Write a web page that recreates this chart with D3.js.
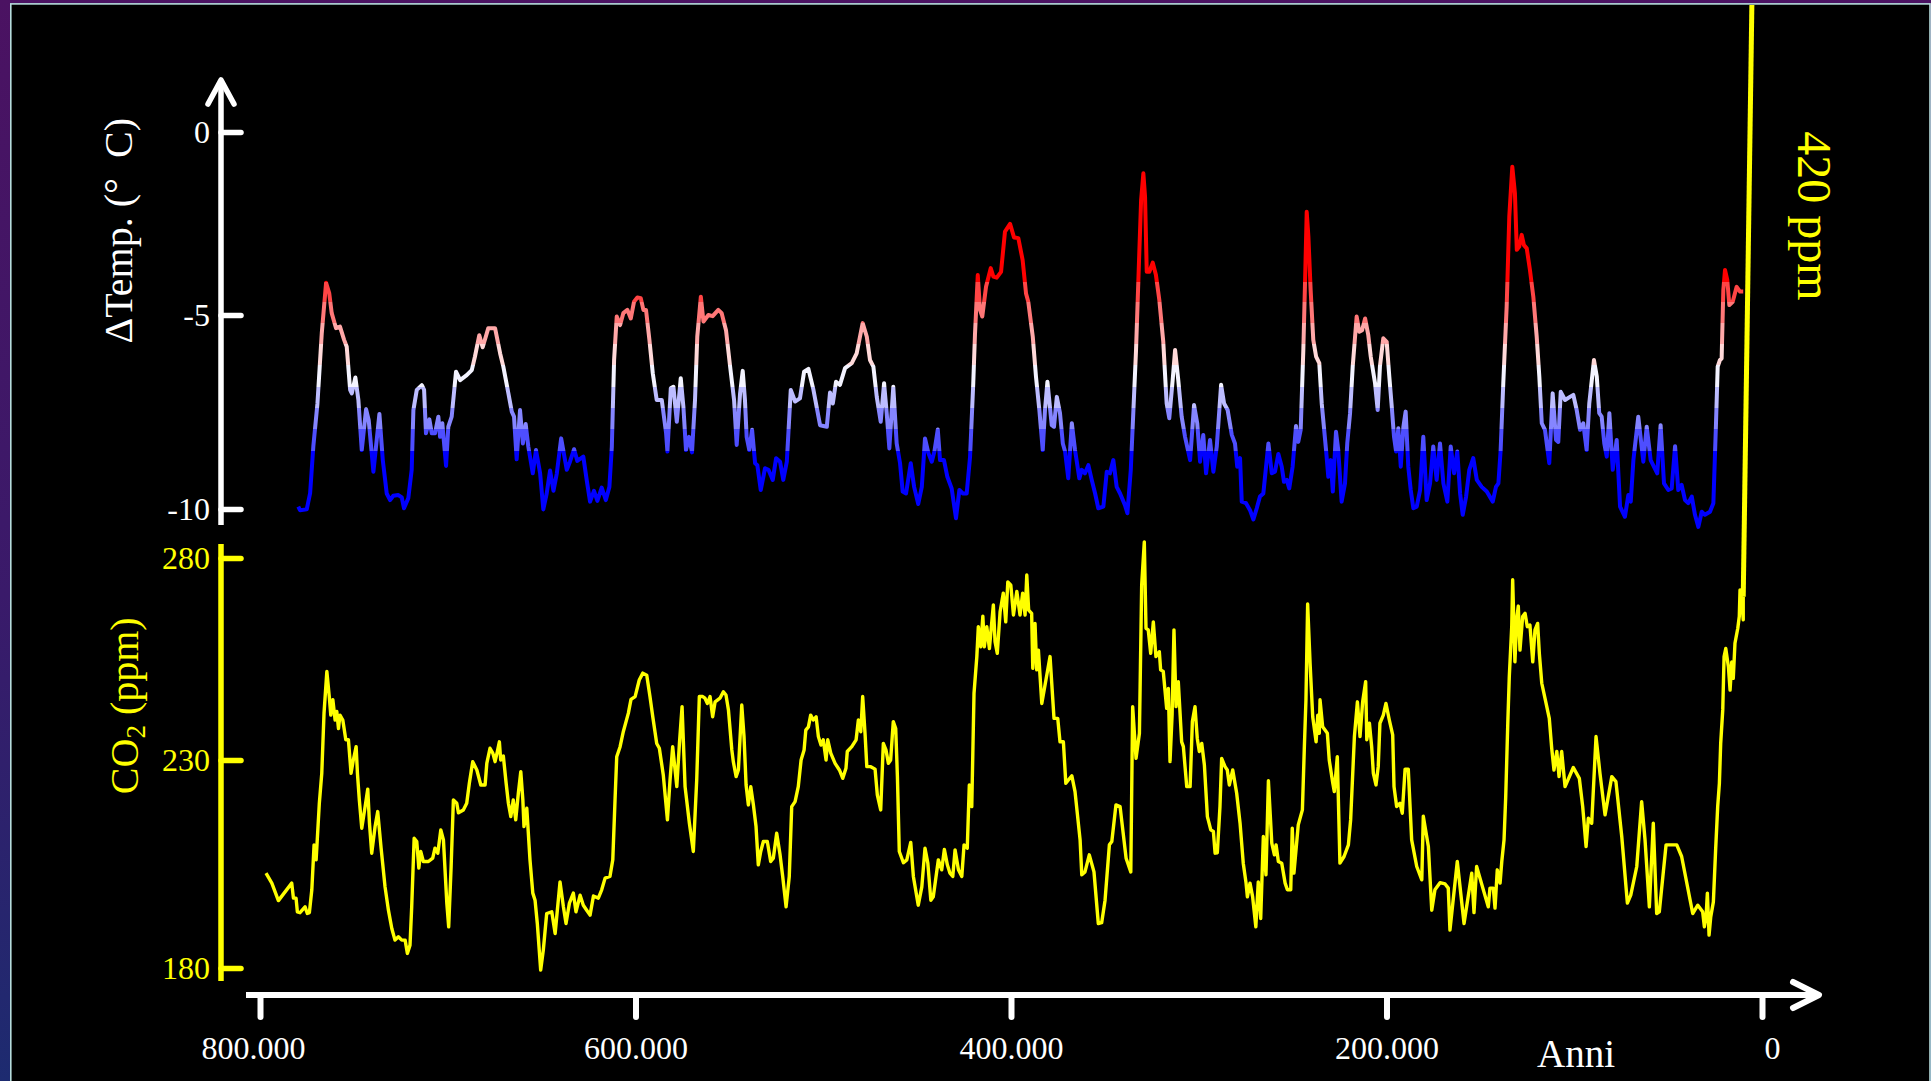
<!DOCTYPE html>
<html>
<head>
<meta charset="utf-8">
<script src="https://cdn.jsdelivr.net/npm/d3@7"></script>
<style>
  body { margin: 0; background: #000; }
  svg { display: block; }
</style>
</head>
<body>
<div id="chart"></div>
<script>
// ages in thousands of years before present
const tempAge = [779.6,778.7,775.1,773.3,771.6,769.4,767.1,764.8,763.1,761.8,759.5,757.4,755.2,753.8,752.0,751.1,749.2,747.6,745.8,743.5,742.1,739.6,736.4,734.6,732.5,730.7,729.0,726.3,724.5,723.3,721.0,719.2,718.3,716.5,713.8,712.6,711.6,709.8,708.5,706.8,705.0,704.1,702.9,700.9,699.7,697.9,695.6,693.4,689.9,687.2,685.5,683.2,681.4,678.4,674.8,672.1,670.4,667.7,665.9,664.7,663.3,661.5,660.0,658.5,657.1,654.7,653.0,650.8,649.1,647.3,645.5,643.7,641.9,639.6,636.6,634.9,632.7,631.0,627.8,626.0,624.2,622.1,620.3,618.0,615.8,613.9,612.6,611.4,610.0,608.2,606.5,604.3,602.5,600.8,599.0,597.2,595.8,594.4,592.6,590.8,588.7,586.0,583.7,583.0,581.2,579.8,578.0,575.9,574.5,573.1,571.5,569.9,568.3,567.1,565.2,563.8,561.2,558.9,555.9,554.1,551.8,549.6,547.5,546.1,544.3,542.9,541.7,540.8,539.4,537.9,536.3,535.1,533.3,531.0,529.2,526.9,525.1,523.0,521.3,519.4,517.3,515.0,512.4,510.2,507.9,505.3,501.7,498.1,496.4,494.9,493.2,491.1,488.4,484.8,482.2,479.0,476.8,475.1,473.3,471.5,469.4,467.6,466.2,464.8,462.7,460.9,459.1,457.7,455.9,453.4,451.6,449.4,447.5,445.8,444.0,442.2,440.8,439.0,437.8,435.7,433.9,431.6,429.3,427.5,425.7,423.6,421.8,420.1,419.2,417.7,416.5,415.3,413.3,410.8,409.4,407.6,405.3,403.2,400.5,398.4,396.1,393.8,392.0,390.8,388.4,386.7,384.9,383.1,381.9,380.6,378.3,377.1,375.6,373.9,372.4,371.2,369.5,367.6,365.9,363.6,362.3,360.6,358.8,357.0,355.2,353.5,350.8,349.0,347.3,345.5,343.7,341.9,339.3,338.0,336.2,334.8,333.4,331.8,330.7,329.5,328.6,327.7,326.3,324.5,322.8,321.0,318.9,317.1,315.7,313.9,312.6,310.9,309.1,307.3,304.6,302.5,300.8,299.3,297.6,296.1,294.0,292.2,290.4,288.1,286.5,284.6,282.4,280.7,279.5,278.0,277.1,274.8,272.7,270.9,269.1,267.4,265.6,262.9,261.1,259.4,257.6,255.8,254.6,253.1,251.8,250.0,248.2,247.0,245.7,244.3,243.4,242.5,241.6,240.4,239.0,237.5,235.8,234.5,232.2,231.0,229.7,228.6,226.9,225.7,223.9,222.1,220.9,219.4,218.0,215.9,214.5,213.0,211.4,209.7,208.4,206.1,204.7,203.5,201.7,199.9,198.5,197.2,196.0,194.9,193.7,192.4,191.0,189.8,188.4,187.1,185.7,183.9,182.1,180.4,178.6,176.8,175.1,173.3,171.5,169.7,167.6,165.8,164.0,162.3,160.8,159.4,157.6,155.9,153.8,151.9,149.3,146.6,143.4,141.7,140.4,139.2,137.8,136.0,134.6,133.0,131.6,130.6,129.3,128.0,126.8,125.3,123.6,121.8,120.0,118.6,117.3,115.6,113.3,111.5,109.7,108.5,107.2,104.9,102.3,100.5,98.7,96.9,95.2,93.4,92.0,89.5,88.0,86.7,85.4,84.0,82.7,81.3,79.5,77.4,75.6,73.0,71.2,69.9,68.5,65.9,63.2,61.4,59.3,55.8,54.0,52.2,49.9,48.1,46.3,44.6,42.8,41.0,39.3,37.4,35.7,33.9,32.1,30.4,27.7,25.9,24.5,23.6,22.4,21.5,20.6,19.7,18.5,17.4,15.6,13.5,11.7,10.0];

// temperature anomaly, degrees C
const tempValue = [-9.94,-10.03,-10.01,-9.59,-8.39,-7.28,-5.47,-4.12,-4.41,-4.95,-5.34,-5.30,-5.64,-5.82,-6.93,-7.02,-6.61,-7.19,-8.48,-7.43,-7.71,-9.04,-7.55,-8.74,-9.60,-9.77,-9.66,-9.64,-9.70,-9.98,-9.72,-8.99,-7.45,-6.93,-6.81,-6.93,-8.05,-7.69,-8.05,-8.05,-7.62,-8.14,-7.79,-8.89,-7.88,-7.62,-6.46,-6.68,-6.55,-6.42,-6.07,-5.52,-5.83,-5.34,-5.34,-5.99,-6.33,-7.02,-7.49,-7.62,-8.72,-7.45,-8.31,-7.81,-8.39,-9.08,-8.48,-9.08,-10.01,-9.60,-9.01,-9.53,-9.08,-8.18,-8.99,-8.78,-8.46,-8.76,-8.65,-9.25,-9.81,-9.53,-9.79,-9.45,-9.77,-9.43,-8.39,-6.16,-5.04,-5.26,-4.95,-4.86,-5.09,-4.64,-4.52,-4.54,-4.86,-4.86,-5.64,-6.50,-7.19,-7.19,-8.05,-8.52,-6.89,-6.85,-7.75,-6.63,-7.36,-8.48,-8.14,-8.54,-7.19,-5.56,-4.50,-5.17,-5.00,-5.03,-4.86,-4.95,-5.39,-6.33,-7.19,-8.35,-7.02,-6.44,-7.19,-8.14,-8.48,-7.96,-8.82,-8.87,-9.51,-8.95,-8.99,-9.25,-8.69,-8.78,-9.25,-8.78,-6.93,-7.23,-7.15,-6.46,-6.39,-6.91,-7.84,-7.88,-7.00,-7.28,-6.72,-6.80,-6.37,-6.24,-5.99,-5.21,-5.56,-6.16,-6.33,-7.11,-7.75,-6.76,-7.53,-8.44,-6.85,-8.31,-8.82,-9.55,-9.60,-8.82,-9.43,-9.87,-9.43,-8.18,-8.56,-8.78,-8.52,-7.95,-8.74,-8.74,-9.17,-9.47,-10.24,-9.51,-9.60,-9.60,-8.65,-6.76,-5.52,-3.91,-4.86,-5.04,-4.23,-3.72,-3.95,-3.98,-3.82,-2.72,-2.51,-2.88,-2.90,-3.50,-4.41,-4.64,-5.56,-6.59,-7.45,-8.48,-7.45,-6.72,-7.84,-7.88,-7.11,-7.53,-8.31,-8.52,-9.21,-7.79,-8.48,-9.21,-8.99,-9.08,-8.87,-9.25,-9.60,-9.98,-9.94,-9.04,-9.08,-8.74,-9.43,-9.60,-9.90,-10.11,-8.99,-7.45,-5.90,-3.50,-1.86,-1.13,-1.77,-3.82,-3.82,-3.57,-3.91,-4.59,-5.69,-7.28,-7.66,-6.68,-5.90,-6.68,-7.62,-8.14,-8.74,-7.32,-7.79,-8.78,-8.09,-9.08,-8.22,-9.04,-8.39,-6.80,-7.28,-7.45,-8.09,-8.31,-8.91,-8.69,-9.81,-9.85,-10.03,-10.27,-9.98,-9.68,-9.60,-8.31,-9.08,-9.04,-8.58,-8.91,-9.30,-9.25,-9.47,-8.91,-7.86,-8.27,-7.96,-5.90,-4.13,-2.18,-2.86,-4.32,-5.64,-6.07,-6.24,-7.28,-8.48,-9.17,-8.74,-9.55,-8.01,-8.48,-9.81,-9.34,-8.31,-7.53,-6.33,-5.04,-5.43,-5.39,-5.09,-5.52,-6.07,-6.76,-7.45,-6.33,-5.60,-5.69,-6.59,-7.36,-8.14,-8.52,-7.92,-8.91,-7.88,-7.49,-8.91,-9.51,-9.98,-9.94,-9.51,-8.14,-9.77,-9.34,-8.39,-9.25,-8.31,-9.34,-9.81,-8.39,-9.08,-8.52,-9.60,-10.15,-9.68,-8.99,-8.69,-9.25,-9.43,-9.55,-9.81,-9.43,-9.34,-8.48,-6.76,-4.77,-2.31,-0.95,-1.67,-3.22,-3.13,-2.81,-3.09,-3.18,-3.77,-4.50,-5.56,-6.59,-7.79,-7.96,-8.82,-7.02,-8.22,-8.27,-6.98,-7.19,-7.11,-7.06,-7.45,-7.96,-7.79,-8.48,-7.28,-6.16,-6.59,-7.53,-7.62,-8.31,-8.65,-7.53,-8.99,-8.22,-9.94,-10.20,-9.64,-9.81,-8.74,-7.62,-8.78,-7.88,-8.74,-9.08,-7.84,-9.34,-9.51,-9.47,-8.38,-9.51,-9.38,-9.77,-9.85,-9.68,-10.15,-10.46,-10.07,-10.15,-10.07,-9.85,-7.79,-6.33,-6.16,-6.12,-4.32,-3.77,-4.04,-4.73,-4.64,-4.23,-4.36,-4.36];

const co2Age = [796.8,793.7,790.2,783.1,782.2,780.8,780.1,778.7,776.0,774.8,773.7,772.4,771.2,770.1,768.4,767.1,765.9,764.4,763.1,762.3,761.2,760.0,759.1,758.2,757.4,755.9,754.3,752.9,751.5,750.3,748.8,748.1,747.1,745.8,744.0,742.6,741.7,740.5,738.7,737.3,735.5,733.4,731.6,729.8,728.1,726.3,724.5,722.7,721.5,720.1,719.2,717.9,716.5,715.4,714.4,713.0,710.3,708.0,706.8,705.3,703.7,702.3,700.5,699.5,698.2,697.0,695.2,694.3,691.7,689.9,688.5,686.7,684.5,682.4,680.1,679.2,677.5,676.0,674.8,673.6,672.5,671.8,670.4,668.9,667.7,666.4,665.1,663.8,662.4,661.1,660.0,659.4,657.9,656.2,654.7,653.5,652.3,650.5,649.1,647.3,644.6,642.8,640.2,638.4,637.0,635.2,633.1,631.7,629.5,627.8,626.0,624.2,622.4,619.8,618.0,616.2,613.6,612.1,610.9,610.0,608.2,606.5,603.8,602.4,600.2,598.0,596.1,594.0,592.3,590.8,588.7,587.3,585.2,583.0,581.6,580.2,578.0,576.6,575.2,573.6,571.3,569.2,567.4,566.0,564.2,563.0,561.7,560.3,558.9,557.6,555.0,553.2,551.8,550.5,548.7,547.9,546.4,545.2,543.4,542.2,541.1,539.9,538.6,537.2,535.8,534.6,533.3,531.9,529.8,528.0,526.6,524.8,523.0,521.6,519.8,518.1,516.8,515.0,513.3,511.8,510.2,509.3,507.9,506.7,505.3,503.8,502.6,501.2,500.0,498.5,497.6,496.0,493.7,491.4,489.6,487.9,487.2,484.8,482.5,481.3,480.0,479.0,477.7,476.8,474.7,472.4,471.2,469.4,468.0,466.6,465.3,464.1,462.7,461.4,460.5,459.5,457.3,455.5,453.4,452.0,449.4,447.5,445.8,444.3,442.7,441.4,438.7,436.9,435.5,433.9,432.5,431.0,429.8,428.0,426.2,425.0,423.3,422.2,420.9,419.7,418.2,417.4,416.1,415.0,414.2,412.9,411.5,409.4,408.5,407.3,405.8,404.1,402.8,401.7,400.1,398.7,396.9,395.2,393.8,392.5,391.6,390.6,389.0,388.4,387.2,386.3,385.4,383.6,379.2,377.1,375.1,373.9,372.1,370.8,367.6,365.9,363.2,362.3,360.6,358.3,355.8,353.5,351.7,349.9,347.6,346.3,344.1,341.9,338.7,336.2,335.2,333.4,331.6,330.4,329.0,328.1,326.9,325.6,324.2,322.8,321.0,320.3,318.9,317.1,316.2,315.3,314.2,313.2,312.1,310.9,309.1,308.2,306.4,304.6,303.4,302.0,300.8,299.7,298.4,297.0,295.4,293.6,292.2,291.3,290.1,288.7,287.8,286.0,284.8,283.7,281.9,279.8,278.0,276.3,274.8,274.1,272.7,271.3,269.6,268.3,267.0,265.6,264.2,262.9,261.1,259.7,258.8,257.6,255.8,254.0,252.8,251.0,250.2,249.3,247.0,244.8,243.8,242.9,242.0,240.7,239.3,237.5,236.6,235.8,235.4,234.0,231.5,230.5,228.6,227.8,226.2,224.8,222.6,220.3,219.1,217.1,215.5,214.1,212.7,211.1,210.5,209.1,207.9,207.0,205.6,204.4,203.5,201.7,200.3,198.5,196.7,196.0,194.6,192.8,191.6,190.1,188.4,186.6,183.9,181.2,180.4,177.7,175.9,174.2,171.5,168.8,167.1,166.2,162.3,158.7,154.6,153.4,152.0,145.8,144.9,143.1,142.2,141.0,139.5,138.6,137.4,136.5,135.4,134.6,133.3,132.8,131.6,130.6,129.8,128.9,127.5,126.2,125.0,123.6,122.1,120.9,119.5,118.6,117.3,115.0,113.3,112.0,110.8,109.3,108.1,106.7,104.9,100.5,97.3,95.5,93.7,92.5,90.7,88.4,86.3,83.6,80.0,77.8,74.7,71.7,69.9,66.7,64.1,62.3,60.0,57.9,56.1,54.7,51.1,45.4,42.8,36.9,34.2,31.6,30.7,29.8,29.1,28.2,27.3,25.9,24.7,23.6,22.7,22.0,20.9,20.2,19.3,17.9,17.0,16.1,15.3,14.4,12.9,12.1,11.7,10.8,10.0,10.0];

// CO2, ppm
const co2Value = [202.8,200.4,196.2,200.4,196.8,196.8,193.5,193.3,194.7,193.1,193.3,198.8,209.6,206.0,219.6,226.8,241.6,251.9,245.7,241.1,244.9,239.9,242.0,237.8,241.1,239.9,235.0,235.0,226.8,230.0,233.3,226.8,220.4,213.6,218.8,223.0,214.8,207.6,214.0,217.6,208.8,199.5,193.9,189.5,186.7,187.5,186.7,186.7,183.5,185.5,194.7,211.2,210.4,204.0,208.0,205.6,205.6,206.4,208.8,207.6,213.2,210.8,195.6,189.9,204.4,220.4,219.6,217.3,218.0,219.6,224.4,229.6,227.6,224.0,224.0,229.2,232.9,231.7,229.6,232.1,234.5,230.0,231.0,224.4,219.6,216.4,220.4,215.6,222.0,227.2,220.4,214.0,218.4,206.0,198.0,196.3,190.7,179.5,184.3,193.1,193.5,188.3,200.7,194.7,190.7,195.6,198.0,193.5,197.5,195.1,193.9,192.7,197.3,196.8,198.8,201.6,202.0,206.0,220.4,230.8,233.3,237.0,241.6,245.0,245.7,249.8,251.5,251.0,245.7,240.7,234.1,232.9,226.4,215.6,225.2,233.3,223.6,234.1,243.2,223.6,214.8,208.0,225.2,245.7,245.7,245.3,244.0,245.7,240.7,244.4,245.3,246.9,246.1,242.4,232.5,229.6,226.0,227.6,243.6,235.8,224.0,219.2,223.6,219.2,214.0,204.8,208.0,210.4,210.4,205.6,206.4,212.4,207.2,202.0,194.7,202.0,218.8,220.0,223.6,230.0,232.5,237.4,238.2,241.1,239.9,240.7,235.8,233.7,235.0,230.0,235.0,231.7,229.2,227.6,225.6,228.0,232.1,233.3,235.0,239.9,237.0,245.7,236.2,228.4,228.4,227.8,221.6,218.0,234.1,232.5,229.2,230.0,239.5,237.8,226.0,208.0,205.3,206.0,210.2,202.0,195.1,199.5,208.8,205.2,196.3,197.1,206.0,203.6,208.5,204.8,202.8,202.0,208.4,203.6,202.0,209.6,208.8,224.0,218.8,246.5,255.6,263.0,258.0,265.6,258.0,263.0,257.6,268.4,259.3,256.4,266.7,271.3,264.2,274.1,273.3,265.9,271.7,265.9,271.3,265.9,275.8,267.1,266.3,252.7,263.8,252.3,257.2,244.0,255.6,240.3,240.3,234.5,234.5,224.4,226.2,222.4,210.8,202.4,203.1,207.2,203.1,190.7,190.9,196.3,209.6,210.4,219.2,218.8,206.4,203.1,243.2,230.4,236.6,273.3,284.0,262.6,262.2,256.4,264.2,255.6,256.8,252.3,251.9,242.8,247.7,229.6,241.1,262.2,243.2,249.4,234.5,233.3,223.6,223.6,239.5,243.2,235.4,232.1,234.1,228.8,216.4,213.2,212.8,207.6,207.7,218.8,230.4,228.4,227.6,224.0,227.6,222.0,214.8,205.2,200.4,197.1,200.4,197.1,189.9,200.7,191.9,211.6,202.4,225.0,210.0,207.2,209.6,205.6,205.2,200.4,198.8,198.8,213.6,202.8,214.4,218.0,232.5,244.9,268.6,253.9,240.7,234.5,241.1,236.6,244.9,238.2,236.6,230.0,224.4,222.4,230.8,205.2,206.8,209.6,215.6,235.8,244.4,235.8,244.4,249.4,235.0,239.1,233.3,226.8,224.0,228.4,239.1,241.1,244.0,239.9,236.2,223.6,218.8,219.6,217.2,227.8,227.8,210.8,204.4,201.2,216.5,209.2,193.9,198.8,200.5,200.2,199.2,189.1,205.6,190.7,202.8,193.3,204.4,194.7,199.2,199.2,194.4,203.6,200.4,205.6,210.8,221.2,239.1,250.6,263.0,274.6,254.3,265.1,268.1,257.2,265.5,266.3,263.0,263.4,254.3,262.2,263.8,256.4,249.0,244.0,240.3,232.9,227.6,232.1,226.0,232.1,223.6,228.2,225.6,218.8,209.2,216.0,214.8,235.8,226.8,216.8,226.0,224.8,211.6,195.6,197.5,204.4,220.0,210.8,194.7,214.8,193.1,193.5,209.6,209.6,206.8,193.1,195.1,193.5,189.9,192.3,198.0,187.9,192.3,195.9,208.4,218.8,224.4,234.1,242.4,255.6,257.6,253.1,247.3,254.3,250.2,258.9,262.6,265.5,272.1,269.6,264.7,270.4];

// the modern jump up to today's value
const modernAge = [10.0, 5.3];
const modernValue = [270.4, 420];

const ageTicks = [800, 600, 400, 200, 0];
const tempTicks = [-10, -5, 0];
const co2Ticks = [180, 230, 280];

const w = 1931;
const h = 1081;
const axisX = 221;
const serif = "'Liberation Serif', 'DejaVu Serif', serif";

const svg = d3.select("#chart").append("svg").attr("width", w).attr("height", h);
const defs = svg.append("defs");

// slide background and frame
const bg = defs.append("linearGradient").attr("id", "bg")
  .attr("x1", 0).attr("y1", 0).attr("x2", 0).attr("y2", 1);
bg.append("stop").attr("offset", "0%").attr("stop-color", "#4b1262");
bg.append("stop").attr("offset", "55%").attr("stop-color", "#3a1a6a");
bg.append("stop").attr("offset", "100%").attr("stop-color", "#1d2b70");
svg.append("rect").attr("width", w).attr("height", h).attr("fill", "url(#bg)");
svg.append("rect")
  .attr("x", 10.8).attr("y", 3.9)
  .attr("width", w - 11.8).attr("height", h)
  .attr("fill", "#000").attr("stroke", "#b6dcdc").attr("stroke-width", 1.6);

defs.append("clipPath").attr("id", "panel")
  .append("rect").attr("x", 12).attr("y", 5).attr("width", w - 13).attr("height", h - 5);

// scales
const x = d3.scaleLinear().domain([800, 0]).range([260, 1762]);
const yT = d3.scaleLinear().domain([-10, -5, 0]).range([509, 315, 132]);
const yC = d3.scaleLinear().domain([180, 230, 280]).range([968, 760, 558]);

// banded blue-white-red stroke for the temperature curve
const tempColor = d3.scaleLinear()
  .domain([-9.0, -6.45, -3.6])
  .range(["#0000ff", "#ffffff", "#ff0000"])
  .clamp(true);
const bandStep = 0.55;
const edges = d3.range(-8.5, -4.0, bandStep);
const offset = (t) => (yT(-10) - yT(t)) / (yT(-10) - yT(0));
const grad = defs.append("linearGradient").attr("id", "tempGrad")
  .attr("gradientUnits", "userSpaceOnUse")
  .attr("x1", 0).attr("x2", 0).attr("y1", yT(-10)).attr("y2", yT(0));
const stops = [{ o: 0, c: "#0000ff" }];
edges.forEach((e, i) => {
  const before = i === 0 ? "#0000ff" : tempColor(edges[i - 1] + bandStep / 2);
  const after = i === edges.length - 1 ? "#ff0000" : tempColor(e + bandStep / 2);
  stops.push({ o: offset(e), c: before });
  stops.push({ o: offset(e), c: after });
});
stops.push({ o: 1, c: "#ff0000" });
grad.selectAll("stop").data(stops).enter().append("stop")
  .attr("offset", (d) => d.o)
  .attr("stop-color", (d) => d.c);

const plot = svg.append("g").attr("clip-path", "url(#panel)");

const tempLine = d3.line().x((d) => x(d[0])).y((d) => yT(d[1]));
const co2Line = d3.line().x((d) => x(d[0])).y((d) => yC(d[1]));

plot.append("path")
  .datum(d3.zip(co2Age, co2Value))
  .attr("d", co2Line)
  .attr("fill", "none")
  .attr("stroke", "#ffff00")
  .attr("stroke-width", 3.4)
  .attr("stroke-linejoin", "round");

plot.append("path")
  .datum(d3.zip(modernAge, modernValue))
  .attr("d", co2Line)
  .attr("fill", "none")
  .attr("stroke", "#ffff00")
  .attr("stroke-width", 5);

plot.append("path")
  .datum(d3.zip(tempAge, tempValue))
  .attr("d", tempLine)
  .attr("fill", "none")
  .attr("stroke", "url(#tempGrad)")
  .attr("stroke-width", 4)
  .attr("stroke-linejoin", "round");

// temperature axis (white, arrow on top)
const tipY = yT(0) - 52;
svg.append("line")
  .attr("x1", axisX).attr("x2", axisX)
  .attr("y1", yT(-10) + 16).attr("y2", tipY)
  .attr("stroke", "#fff").attr("stroke-width", 5.5);
svg.append("polyline")
  .attr("points", [[axisX - 13, tipY + 24], [axisX, tipY], [axisX + 13, tipY + 24]].join(" "))
  .attr("fill", "none").attr("stroke", "#fff").attr("stroke-width", 5.5)
  .attr("stroke-linecap", "round").attr("stroke-linejoin", "round");

const gT = svg.append("g")
  .attr("transform", "translate(" + axisX + ",0)")
  .call(d3.axisLeft(yT).tickValues(tempTicks).tickFormat((d) => String(d))
    .tickSizeInner(-20).tickSizeOuter(0).tickPadding(11));
gT.select(".domain").remove();
gT.attr("font-family", serif).attr("font-size", 32);
gT.selectAll(".tick line").attr("stroke", "#fff").attr("stroke-width", 5.5).attr("stroke-linecap", "round");
gT.selectAll(".tick text").attr("fill", "#fff");

svg.append("text")
  .attr("transform", "translate(132," + (yT(-10) + yT(0)) / 2 * 0.72 + ") rotate(-90)")
  .attr("text-anchor", "middle")
  .attr("font-family", serif).attr("font-size", 40)
  .attr("fill", "#fff")
  .text("\u0394Temp. (\u00b0\u00a0\u00a0C)");

// CO2 axis (yellow)
svg.append("line")
  .attr("x1", axisX).attr("x2", axisX)
  .attr("y1", yC(280) - 14).attr("y2", yC(180) + 13)
  .attr("stroke", "#ffff00").attr("stroke-width", 5.5);

const gC = svg.append("g")
  .attr("transform", "translate(" + axisX + ",0)")
  .call(d3.axisLeft(yC).tickValues(co2Ticks).tickFormat((d) => String(d))
    .tickSizeInner(-20).tickSizeOuter(0).tickPadding(11));
gC.select(".domain").remove();
gC.attr("font-family", serif).attr("font-size", 32);
gC.selectAll(".tick line").attr("stroke", "#ffff00").attr("stroke-width", 5.5).attr("stroke-linecap", "round");
gC.selectAll(".tick text").attr("fill", "#ffff00");

const co2Title = svg.append("text")
  .attr("transform", "translate(138," + (yC(180) + yC(280)) / 2 * 0.925 + ") rotate(-90)")
  .attr("text-anchor", "middle")
  .attr("font-family", serif).attr("font-size", 40)
  .attr("fill", "#ffff00");
co2Title.append("tspan").text("CO");
co2Title.append("tspan").attr("font-size", 27).attr("dy", 7).text("2");
co2Title.append("tspan").attr("dy", -7).text("\u00a0(ppm)");

svg.append("text")
  .attr("transform", "translate(1798,216) rotate(90)")
  .attr("text-anchor", "middle")
  .attr("font-family", serif).attr("font-size", 48)
  .attr("fill", "#ffff00")
  .text("420 ppm");

// time axis
const axisY = 995;
const it = d3.formatLocale({ decimal: ",", thousands: ".", grouping: [3], currency: ["", "\u20ac"] });
const fmtYears = (d) => (d === 0 ? "0" : it.format(",")(d * 1000));

svg.append("line")
  .attr("x1", 246).attr("x2", 1818)
  .attr("y1", axisY).attr("y2", axisY)
  .attr("stroke", "#fff").attr("stroke-width", 6);
svg.append("polyline")
  .attr("points", [[1793, axisY - 13], [1819, axisY], [1793, axisY + 13]].join(" "))
  .attr("fill", "none").attr("stroke", "#fff").attr("stroke-width", 6)
  .attr("stroke-linecap", "round").attr("stroke-linejoin", "round");

const gX = svg.append("g")
  .attr("transform", "translate(0," + axisY + ")")
  .call(d3.axisBottom(x).tickValues(ageTicks).tickFormat(fmtYears)
    .tickSizeInner(22).tickSizeOuter(0).tickPadding(19));
gX.select(".domain").remove();
gX.attr("font-family", serif).attr("font-size", 32);
gX.selectAll(".tick line").attr("stroke", "#fff").attr("stroke-width", 6).attr("stroke-linecap", "round");
gX.selectAll(".tick text").attr("fill", "#fff")
  .attr("dx", (d) => (d === 800 ? -7 : d === 0 ? 10 : 0));

svg.append("text")
  .attr("x", 1576).attr("y", 1067)
  .attr("text-anchor", "middle")
  .attr("font-family", serif).attr("font-size", 39)
  .attr("fill", "#fff")
  .text("Anni");
</script>
</body>
</html>
